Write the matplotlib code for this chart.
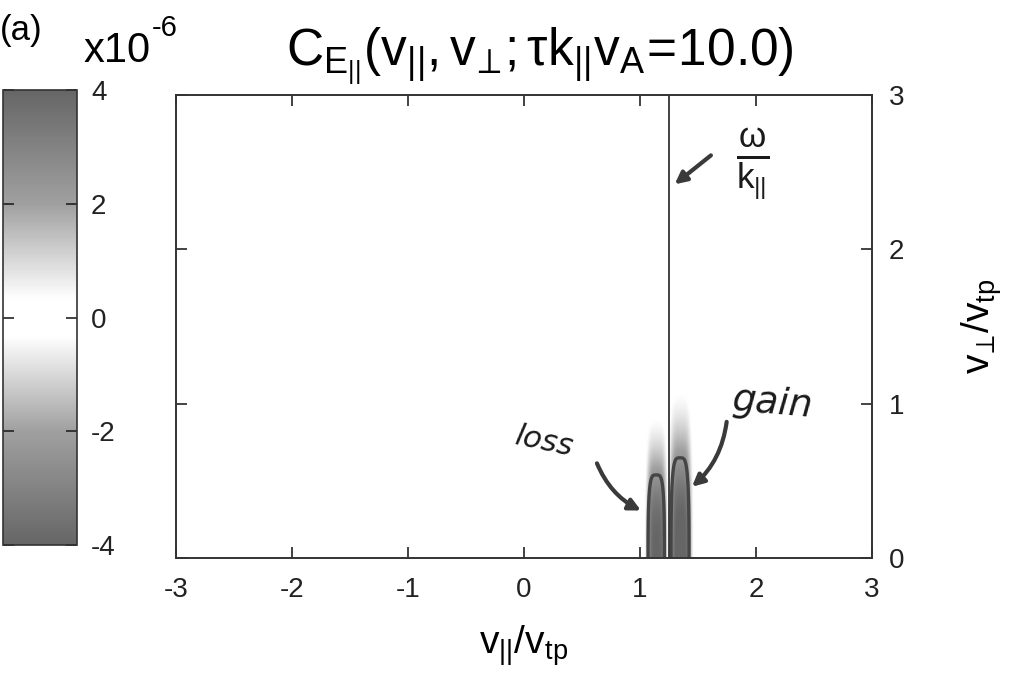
import numpy as np
import matplotlib
matplotlib.use("Agg")
import matplotlib.pyplot as plt
from matplotlib.colors import LinearSegmentedColormap

plt.rcParams['font.family'] = ['Liberation Sans', 'DejaVu Sans']
plt.rcParams['mathtext.fontset'] = 'custom'
plt.rcParams['mathtext.rm'] = 'Liberation Sans'
plt.rcParams['mathtext.it'] = 'Liberation Sans'
plt.rcParams['mathtext.bf'] = 'Liberation Sans:bold'

# ---- data ----
omega_over_k = 1.25                 # resonant velocity (vertical line)
lobe_names = ["loss", "gain"]
lobe_center_x = [1.14, 1.345]       # v_par / v_tp
lobe_width_x = [0.082, 0.088]
lobe_height = [0.58, 0.68]          # v_perp / v_tp
lobe_amp = [-4.0, 4.2]              # x 1e-6
x_ticks = [-3, -2, -1, 0, 1, 2, 3]
y_ticks = [0, 1, 2, 3]
cbar_ticks = [-4, -2, 0, 2, 4]

fig = plt.figure(figsize=(10.12, 6.75), dpi=100)
W, H = 1012, 675
def fr(x0, y0, x1, y1):
    return [x0 / W, 1 - y1 / H, (x1 - x0) / W, (y1 - y0) / H]

ax = fig.add_axes(fr(176, 95, 872, 558))
cax = fig.add_axes(fr(3, 90, 77, 545))

cmap = LinearSegmentedColormap.from_list(
    "gw", [(0, "#666666"), (0.25, "#a0a0a0"), (0.46, "#ffffff"), (0.54, "#ffffff"),
           (0.75, "#a0a0a0"), (1, "#666666")])

gx = np.linspace(0.85, 1.65, 400)
gy = np.linspace(0.0, 1.4, 400)
X, Y = np.meshgrid(gx, gy)
F = np.zeros_like(X)
for xc, w, h, a in zip(lobe_center_x, lobe_width_x, lobe_height, lobe_amp):
    F += a * np.exp(-((X - xc) / w) ** 4) * np.exp(-np.log(2) * (Y / h) ** 3)

im = ax.imshow(F, extent=[gx[0], gx[-1], gy[0], gy[-1]], origin="lower",
               cmap=cmap, vmin=-4, vmax=4, aspect="auto", interpolation="bilinear", zorder=1)
ax.contour(X, Y, F, levels=[-2.3, 2.3], colors="#454545", linewidths=2.4,
           linestyles="solid", zorder=2)

ax.axvline(omega_over_k, color="#333333", lw=1.3, zorder=3)

ax.set_xlim(-3, 3)
ax.set_ylim(0, 3)
ax.set_xticks(x_ticks)
ax.set_yticks(y_ticks)
ax.set_xticklabels([str(t) for t in x_ticks])
ax.set_yticklabels([str(t) for t in y_ticks])
ax.tick_params(direction="in", length=8, width=1.2, top=True, right=True, left=True, bottom=True,
               labelleft=False, labelright=True, labelsize=20, pad=14, colors="#222222")
ax.tick_params(axis="y", pad=12)
for s in ax.spines.values():
    s.set_linewidth(1.4)
    s.set_color("#333333")

ax.set_xlabel(r"$\mathregular{v_{||}/v_{tp}}$", fontsize=28, labelpad=14)
ax.yaxis.set_label_position("right")
ax.set_ylabel(r"$\mathregular{v_{\!\perp\!}/v_{tp}}$", fontsize=28, labelpad=40, rotation=90)

fig.text(0.533, 0.872, r"$\mathregular{C_{E_{||}}(v_{||},v_{\!\perp\!};\tau k_{||}v_A\!=\!10.0)}$",
         fontsize=37, ha="center", va="bottom")
fig.text(0.0, 0.955, "(a)", fontsize=25, ha="left", va="center")
fig.text(0.083, 0.925, "x10", fontsize=30, ha="left", va="center")
fig.text(0.150, 0.958, "-6", fontsize=21, ha="left", va="center")

cb = fig.colorbar(im, cax=cax, ticks=cbar_ticks)
cb.outline.set_linewidth(1.2)
cb.outline.set_edgecolor("#333333")
cax.tick_params(direction="in", length=8, width=1.2, left=True, right=True,
                labelsize=20, pad=10, colors="#222222")
cax.set_yticklabels([str(t) for t in cbar_ticks])

# handwritten-style annotations
hand = dict(family="DejaVu Sans", style="italic", color="#1a1a1a")
ax.text(0.18, 0.75, "loss", fontsize=22, rotation=-12, ha="center", va="center", **hand)
ax.text(2.14, 1.0, "gain", fontsize=27, rotation=-5, ha="center", va="center", **hand)
ax.text(1.97, 2.55, r"$\frac{\omega}{k_{||}}$", fontsize=36, ha="center", va="center", color="#1a1a1a")

arr = dict(arrowstyle="-|>,head_length=0.7,head_width=0.35", color="#3a3a3a", lw=3)
ax.annotate("", xy=(1.03, 0.30), xytext=(0.62, 0.63),
            arrowprops=dict(connectionstyle="arc3,rad=0.2", **arr), annotation_clip=False)
ax.annotate("", xy=(1.43, 0.45), xytext=(1.75, 0.90),
            arrowprops=dict(connectionstyle="arc3,rad=-0.2", **arr), annotation_clip=False)
ax.annotate("", xy=(1.28, 2.41), xytext=(1.63, 2.62),
            arrowprops=dict(connectionstyle="arc3,rad=0.0", **arr), annotation_clip=False)

fig.savefig("out.png", dpi=100)
